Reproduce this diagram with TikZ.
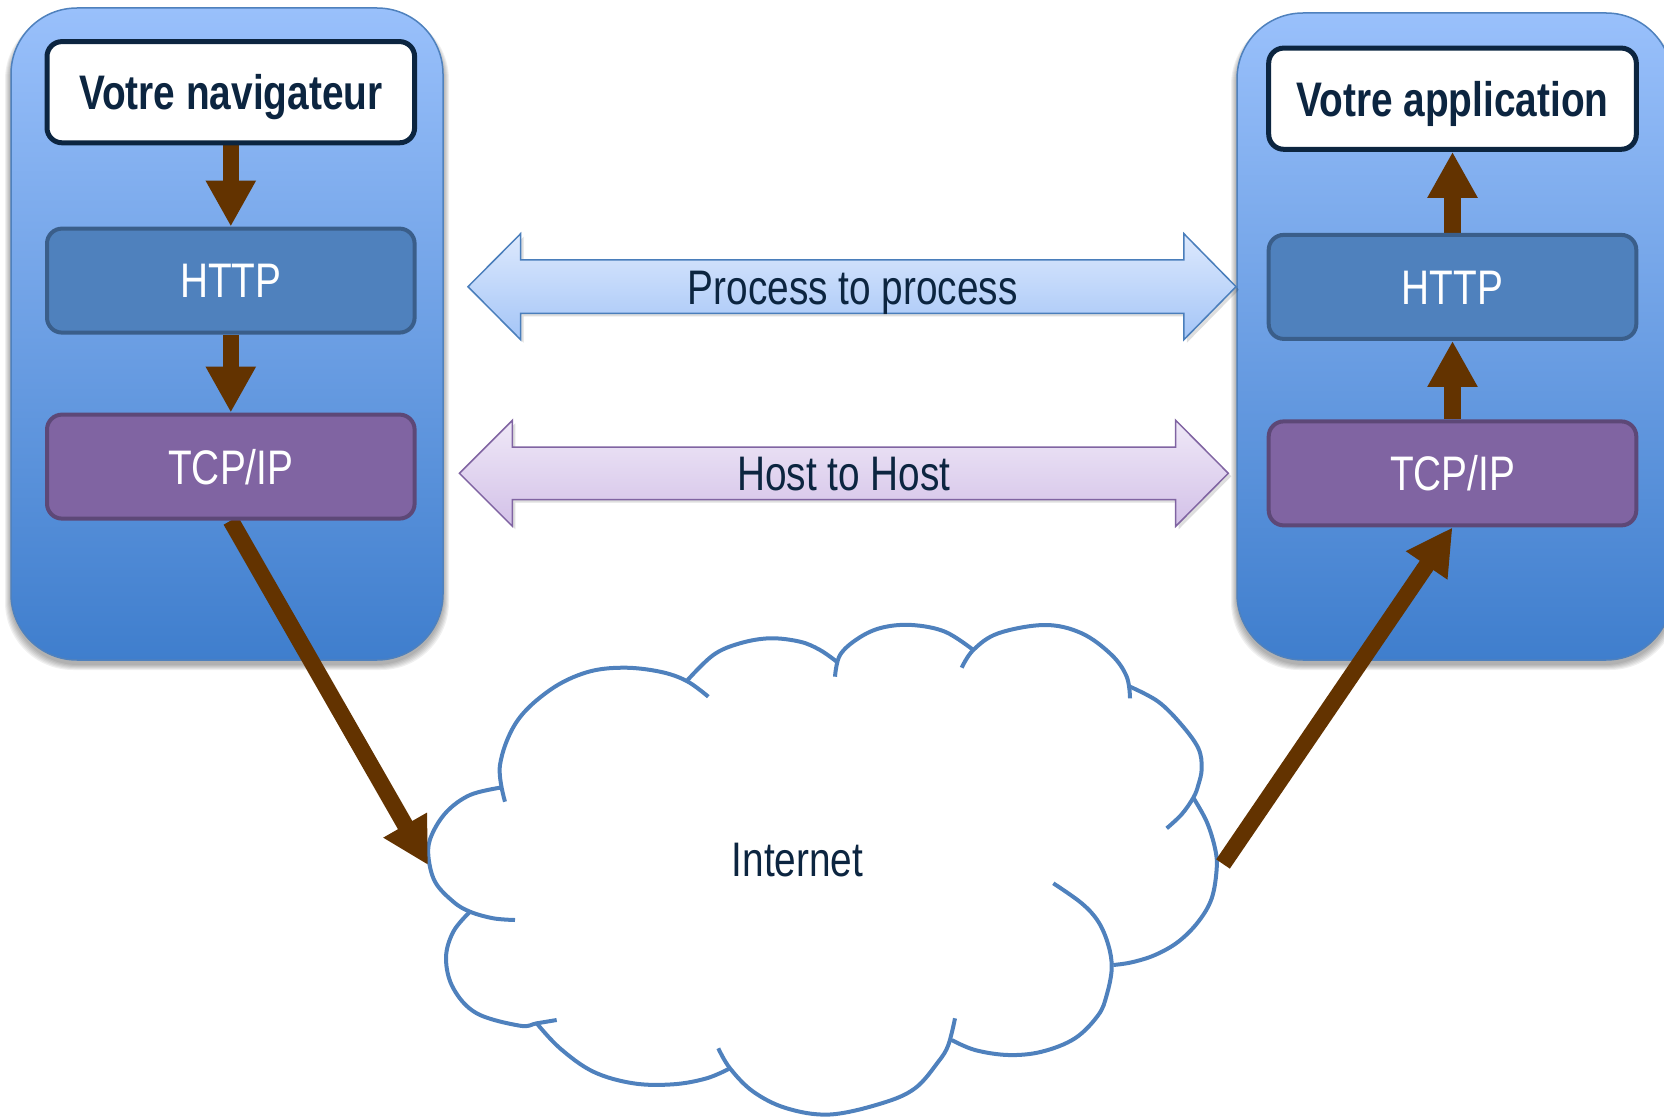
\documentclass[tikz,border=0pt]{standalone}
\usepackage{fontspec}
\newfontfamily\narrowsans{Liberation Sans}[FakeStretch=0.8]
\usetikzlibrary{arrows.meta}

\definecolor{panelTop}{RGB}{153,192,251}
\definecolor{panelBot}{RGB}{63,126,205}
\definecolor{panelDraw}{RGB}{79,129,189}
\definecolor{httpFill}{RGB}{79,129,189}
\definecolor{httpDraw}{RGB}{58,94,138}
\definecolor{tcpFill}{RGB}{128,100,162}
\definecolor{tcpDraw}{RGB}{93,72,119}
\definecolor{navy}{RGB}{12,37,64}
\definecolor{flowbrown}{RGB}{99,51,0}
\definecolor{procTop}{RGB}{221,233,253}
\definecolor{procBot}{RGB}{164,197,247}
\definecolor{procDraw}{RGB}{74,126,187}
\definecolor{hostTop}{RGB}{239,232,247}
\definecolor{hostBot}{RGB}{211,193,232}
\definecolor{hostDraw}{RGB}{128,100,162}
\definecolor{cloudDraw}{RGB}{79,129,189}

\pgfdeclarelayer{front}
\pgfsetlayers{main,front}

\tikzset{
  hostpanel/.style={draw=panelDraw, line width=0.75pt, top color=panelTop,
    bottom color=panelBot, rounded corners=33pt},
  panelshade/.style={fill=black, fill opacity=0.06, draw=none, rounded corners=34pt},
  labelfont/.style={font=\narrowsans\fontsize{24.25pt}{29pt}\selectfont},
  layerbox/.style={labelfont, rounded corners=7.5pt, line width=2pt,
    minimum width=183.8pt, minimum height=52pt, inner sep=0pt,
    text height=17.4pt, text depth=0pt},
  appbox/.style={layerbox, fill=white, draw=navy, line width=2.5pt, text=navy,
    minimum height=50.6pt, font=\narrowsans\bfseries\fontsize{24.25pt}{29pt}\selectfont},
  httpbox/.style={layerbox, fill=httpFill, draw=httpDraw, text=white},
  tcpbox/.style={layerbox, fill=tcpFill, draw=tcpDraw, text=white},
  flow/.style={draw=flowbrown, line width=8.25pt,
    -{Triangle[width=23.5pt,length=23pt]}, fill=flowbrown},
  bandlabel/.style={labelfont, text=navy, inner sep=0pt, text height=17.4pt, text depth=0pt},
  bandshade/.style={fill=black, fill opacity=0.13, draw=none},
  procband/.style={draw=procDraw, line width=0.75pt, top color=procTop, bottom color=procBot},
  hostband/.style={draw=hostDraw, line width=0.75pt, top color=hostTop, bottom color=hostBot},
  cloudline/.style={draw=cloudDraw, line width=2pt}
}

\begin{document}
\begin{tikzpicture}[x=0.5pt, y=-0.5pt]
\useasboundingbox (0,0) rectangle (1664,1117);

% host panels with a soft drop shadow
\foreach \g in {1,2,...,6} {
  \path[panelshade] (11-\g,8+4) rectangle (443+\g,660+4+\g);
  \path[panelshade] (1237-\g,13+4) rectangle (1672+\g,660+4+\g);
}
\path[hostpanel] (11,8) rectangle (443,660);
\path[hostpanel] (1237,13) rectangle (1672,660);

% protocol stacks
\begin{pgfonlayer}{front}
  \node[appbox]  (lnav)  at (230.8,92.2)  {Votre navigateur};
  \node[httpbox] (lhttp) at (230.8,280.6) {HTTP};
  \node[tcpbox]  (ltcp)  at (230.8,466.6) {TCP/IP};
  \node[appbox]  (rapp)  at (1452.5,98.7)  {Votre application};
  \node[httpbox] (rhttp) at (1452.5,286.9) {HTTP};
  \node[tcpbox]  (rtcp)  at (1452.5,473.4) {TCP/IP};
\end{pgfonlayer}

% double-headed bands between the stacks
\begin{scope}[shift={(3,3)}]
  \path[bandshade] (468,286.7) -- (520.6,233.7) -- (520.6,260) -- (1183.9,260)
    -- (1183.9,233.7) -- (1236,286.7) -- (1183.9,339.7) -- (1183.9,313.4)
    -- (520.6,313.4) -- (520.6,339.7) -- cycle;
  \path[bandshade] (459.4,473.3) -- (512.4,420.3) -- (512.4,447) -- (1175.7,447)
    -- (1175.7,420.3) -- (1228.3,473.3) -- (1175.7,526.3) -- (1175.7,499.6)
    -- (512.4,499.6) -- (512.4,526.3) -- cycle;
\end{scope}
\path[procband] (468,286.7) -- (520.6,233.7) -- (520.6,260) -- (1183.9,260)
  -- (1183.9,233.7) -- (1236,286.7) -- (1183.9,339.7) -- (1183.9,313.4)
  -- (520.6,313.4) -- (520.6,339.7) -- cycle;
\node[bandlabel] (proc) at (852.7,286.7) {Process to process};

\path[hostband] (459.4,473.3) -- (512.4,420.3) -- (512.4,447) -- (1175.7,447)
  -- (1175.7,420.3) -- (1228.3,473.3) -- (1175.7,526.3) -- (1175.7,499.6)
  -- (512.4,499.6) -- (512.4,526.3) -- cycle;
\node[bandlabel] (host) at (843.9,473.3) {Host to Host};

% the network cloud
\begin{scope}[cloudline]
  \draw plot[smooth, tension=0.6] coordinates {(505,801.7) (500,765) (516.7,721.7) (550,690) (586.7,672.3) (623.3,667.7) (660,671.7) (686.7,681) (708.3,696.7)};
  \draw plot[smooth, tension=0.6] coordinates {(686.7,681) (713.3,655) (740,643.3) (770,638.3) (800,641.7) (820,650) (836.7,661.7)};
  \draw plot[smooth, tension=0.6] coordinates {(835,676.7) (840,655) (858.3,638.3) (881.7,627.7) (911.7,625) (945,631.7) (973.3,650)};
  \draw plot[smooth, tension=0.6] coordinates {(961.7,667.7) (973.3,650) (998.3,633.3) (1045,625) (1081.7,633.3) (1111.7,655) (1126.7,676.7) (1130,698.3)};
  \draw plot[smooth, tension=0.6] coordinates {(1130,686.7) (1158.3,701.7) (1181.7,725) (1198.3,748.3) (1201.7,768.3) (1198.3,785) (1193.3,797.7) (1181.7,814.3) (1166.7,828.3)};
  \draw plot[smooth, tension=0.6] coordinates {(1193.3,797.7) (1206.7,821.7) (1215,848.3) (1216.7,868.3) (1211.7,898.3) (1198.3,921.7) (1178.3,941.7) (1155,955) (1131.7,962.3) (1113.3,965)};
  \draw plot[smooth, tension=0.6] coordinates {(1053.3,883.3) (1081.7,903.3) (1098.3,921.7) (1108.3,945) (1111.7,968.3) (1106.7,995) (1098.3,1015) (1075,1038.3) (1041.7,1051.7) (1008.3,1055) (975,1050) (951.7,1040)};
  \draw plot[smooth, tension=0.6] coordinates {(955,1018.3) (948.3,1045) (938.3,1061.7) (915,1088.3) (881.7,1103.3) (830,1114.5) (786.7,1108.3) (753.3,1091.7) (730,1068.3) (718.3,1048.3)};
  \draw plot[smooth, tension=0.6] coordinates {(536.7,1023.3) (560,1048.3) (593.3,1071.7) (633.3,1083.3) (673.3,1084.3) (706.7,1078.3) (730,1068.3)};
  \draw plot[smooth, tension=0.6] coordinates {(470,911.7) (453.3,931.7) (446,958.3) (453.3,988.3) (476.7,1013.3) (520,1025.7) (536.7,1023.3) (556.7,1020)};
  \draw plot[smooth, tension=0.6] coordinates {(500,787.7) (470,795) (446.7,811.7) (431.7,835) (428.3,855) (435,881.7) (453.3,901.7) (470,911.7) (493.3,918.3) (515,920)};
\end{scope}
\node[bandlabel] (net) at (797.5,858.6) {Internet};
\coordinate (cloudin)  at (428,865);
\coordinate (cloudout) at (1223,864);

% data flow through the stacks
\draw[flow] (lnav.south) -- (lhttp.north);
\draw[flow] (lhttp.south) -- (ltcp.north);
\draw[flow] (ltcp.south) -- (cloudin);
\draw[flow] (cloudout) -- (rtcp.south);
\draw[flow] (rtcp.north) -- (rhttp.south);
\draw[flow] (rhttp.north) -- (rapp.south);
\end{tikzpicture}
\end{document}
